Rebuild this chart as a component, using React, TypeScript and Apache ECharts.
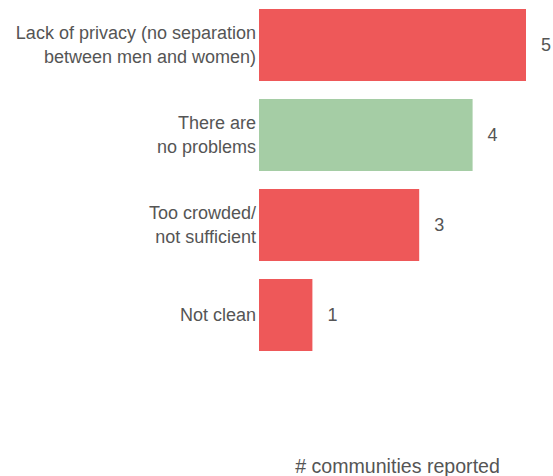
import React, { useEffect, useRef } from "react";
import * as echarts from "echarts";

const categories = [
  "Lack of privacy (no separation\nbetween men and women)",
  "There are\nno problems",
  "Too crowded/\nnot sufficient",
  "Not clean",
];
const values = [5, 4, 3, 1];
const barColors = ["#ee5859", "#a5cda5", "#ee5859", "#ee5859"];
const axisTitle = "# communities reported";

const FONT = "'Liberation Sans', Arial, sans-serif";

export default function App() {
  const ref = useRef<HTMLDivElement>(null);
  useEffect(() => {
    if (!ref.current) return;
    const chart = echarts.init(ref.current, null, { renderer: "svg" });
    chart.setOption({
      animation: false,
      textStyle: { fontFamily: FONT },
      grid: { left: 259, right: 27, top: 0, height: 360, containLabel: false },
      xAxis: {
        type: "value",
        min: 0,
        max: 5,
        show: false,
      },
      yAxis: {
        type: "category",
        inverse: true,
        data: categories,
        axisLine: { show: false },
        axisTick: { show: false },
        splitLine: { show: false },
        axisLabel: {
          margin: 3,
          color: "#555555",
          fontSize: 18,
          lineHeight: 24,
          fontFamily: FONT,
        },
      },
      series: [
        {
          type: "bar",
          barCategoryGap: "20%",
          data: values.map((v, i) => ({ value: v, itemStyle: { color: barColors[i] } })),
          label: {
            show: true,
            position: "right",
            distance: 15,
            color: "#555555",
            fontSize: 18,
            fontFamily: FONT,
          },
        },
      ],
      graphic: [
        {
          type: "text",
          x: 397.5,
          y: 466,
          style: {
            text: axisTitle,
            fill: "#555555",
            fontSize: 19.6,
            fontFamily: FONT,
            textAlign: "center",
            textVerticalAlign: "middle",
          },
        },
      ],
    });
    return () => chart.dispose();
  }, []);
  return <div ref={ref} style={{ width: 553, height: 476, position: "absolute", left: 0, top: 0 }} />;
}
